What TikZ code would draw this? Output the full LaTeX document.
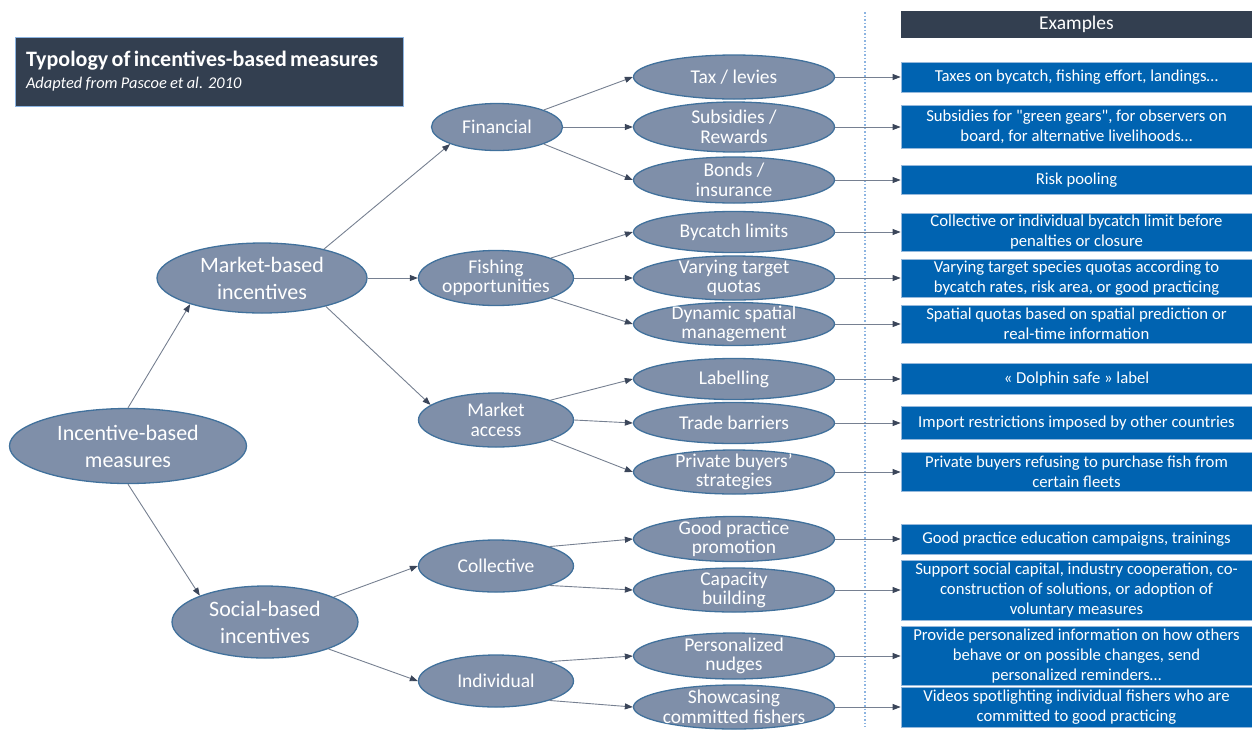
\documentclass[tikz,border=0pt]{standalone}
\usepackage{fontspec}
\setmainfont{Carlito}
\usetikzlibrary{shapes.geometric,arrows.meta}
\definecolor{ellfill}{RGB}{127,143,169}
\definecolor{ellline}{RGB}{65,113,156}
\definecolor{boxblue}{RGB}{0,99,177}
\definecolor{boxedge}{RGB}{150,185,220}
\definecolor{darkhead}{RGB}{51,63,80}
\definecolor{conn}{RGB}{118,128,145}
\definecolor{tipc}{RGB}{59,70,90}
\definecolor{sepline}{RGB}{140,180,225}

\begin{document}
\begin{tikzpicture}[x=1pt,y=-1pt,
    ell/.style args={#1/#2}{ellipse,draw=ellline,line width=1.3pt,fill=ellfill,
      inner sep=0pt,minimum width=#1,minimum height=#2},
    big/.style={text=white,align=center,font=\fontsize{22}{27}\selectfont},
    mid/.style={text=white,align=center,font=\fontsize{19.5}{19.5}\selectfont},
    sml/.style={text=white,align=center,font=\fontsize{19.5}{19.5}\selectfont},
    expl/.style={rectangle,fill=boxblue,draw=boxedge,line width=0.8pt,text=white,
      align=center,minimum width=351pt,minimum height=#1,inner sep=0pt,
      font=\fontsize{16.7}{20}\selectfont},
    arr/.style={draw=conn,line width=0.9pt,-{Triangle[length=8pt,width=6pt,color=tipc]}},
  ]
  \useasboundingbox (0,0) rectangle (1252,729);

  % Title
  \node[rectangle,fill=darkhead,draw=sepline,line width=1pt,minimum width=388pt,
    minimum height=69pt,text width=366pt,align=left,text=white,inner sep=0pt] (title) at (209,71.5)
    {{\bfseries\fontsize{22}{24}\selectfont Typology of incentives-based measures}\\[6pt]
     {\itshape\fontsize{16.4}{20}\selectfont Adapted from Pascoe et al. 2010}};
  \node[rectangle,fill=darkhead,minimum width=351pt,minimum height=27pt,inner sep=0pt,
    text=white,font=\fontsize{19.5}{22}\selectfont] (exhead) at (1076.5,24.5) {Examples};
  \draw[sepline,line width=1.2pt,dash pattern=on 1.5pt off 2pt] (865,12) -- (865,727);

  % Levels 1 and 2
  \node[ell=237pt/75pt,label={[big]center:Incentive-based\\measures}] (root) at (128,446) {};
  \node[ell=210pt/70pt,label={[big]center:Market-based\\incentives}] (market) at (262,278) {};
  \node[ell=186pt/72pt,label={[big]center:Social-based\\incentives}] (social) at (265,622) {};
  \node[ell=131pt/47pt,label={[mid]center:Financial}] (financial) at (497,127) {};
  \node[ell=155pt/55pt,label={[mid]center:Fishing\\opportunities}] (fishing) at (496,278) {};
  \node[ell=155pt/54pt,label={[mid]center:Market\\access}] (access) at (496,420) {};
  \node[ell=155pt/52pt,label={[mid]center:Collective}] (collective) at (496,566) {};
  \node[ell=155pt/52pt,label={[mid]center:Individual}] (individual) at (496,681) {};

  % Level 3
  \node[ell=201pt/44pt,label={[sml]center:Tax / levies}] (tax) at (734,77) {};
  \node[ell=201pt/50pt,label={[sml]center:Subsidies /\\Rewards}] (subs) at (734,127) {};
  \node[ell=201pt/46pt,label={[sml]center:Bonds /\\insurance}] (bonds) at (734,180) {};
  \node[ell=201pt/41pt,label={[sml]center:Bycatch limits}] (bylimit) at (734,232) {};
  \node[ell=201pt/44pt,label={[sml]center:Varying target\\quotas}] (quotas) at (734,278) {};
  \node[ell=201pt/43pt,label={[sml]center:Dynamic spatial\\management}] (spatial) at (734,324) {};
  \node[ell=201pt/41pt,label={[sml]center:Labelling}] (labelling) at (734,379) {};
  \node[ell=201pt/41pt,label={[sml]center:Trade barriers}] (trade) at (734,423) {};
  \node[ell=201pt/44pt,label={[sml]center:Private buyers’\\strategies}] (buyers) at (734,472) {};
  \node[ell=201pt/45pt,label={[sml]center:Good practice\\promotion}] (goodprac) at (734,539) {};
  \node[ell=201pt/44pt,label={[sml]center:Capacity\\building}] (capacity) at (734,590) {};
  \node[ell=201pt/46pt,label={[sml]center:Personalized\\nudges}] (nudges) at (734,656) {};
  \node[ell=201pt/44pt,label={[sml]center:Showcasing\\committed fishers}] (showcase) at (734,707) {};

  % Examples
  \node[expl=30pt] (extax) at (1076.5,77) {Taxes on bycatch, fishing effort, landings…};
  \node[expl=43pt] (exsubs) at (1076.5,127) {Subsidies for \textquotedbl green gears\textquotedbl, for observers on\\board, for alternative livelihoods…};
  \node[expl=29pt] (exbonds) at (1076.5,180) {Risk pooling};
  \node[expl=38pt] (exbylimit) at (1076.5,232) {Collective or individual bycatch limit before\\penalties or closure};
  \node[expl=38pt] (exquotas) at (1076.5,278) {Varying target species quotas according to\\bycatch rates, risk area, or good practicing};
  \node[expl=38pt] (exspatial) at (1076.5,324) {Spatial quotas based on spatial prediction or\\real-time information};
  \node[expl=31pt] (exlabelling) at (1076.5,379) {« Dolphin safe » label};
  \node[expl=33pt] (extrade) at (1076.5,423) {Import restrictions imposed by other countries};
  \node[expl=39pt] (exbuyers) at (1076.5,472) {Private buyers refusing to purchase fish from\\certain fleets};
  \node[expl=30pt] (exgoodprac) at (1076.5,539) {Good practice education campaigns, trainings};
  \node[expl=60pt] (excapacity) at (1076.5,590) {Support social capital, industry cooperation, co-\\construction of solutions, or adoption of\\voluntary measures};
  \node[expl=59pt] (exnudges) at (1076.5,656) {Provide personalized information on how others\\behave or on possible changes, send\\personalized reminders…};
  \node[expl=40pt] (exshowcase) at (1076.5,707) {Videos spotlighting individual fishers who are\\committed to good practicing};

  % Tree
  \draw[arr] (root.north) -- (market.200);
  \draw[arr] (root.south) -- (social.158);
  \draw[arr] (market.25) -- (financial.200);
  \draw[arr] (market.east) -- (fishing.west);
  \draw[arr] (market.-24) -- (access.167);
  \draw[arr] (social.20) -- (collective.west);
  \draw[arr] (social.-23) -- (individual.west);
  \draw[arr] (financial.20) -- (tax.west);
  \draw[arr] (financial.east) -- (subs.west);
  \draw[arr] (financial.-20) -- (bonds.west);
  \draw[arr] (fishing.20) -- (bylimit.west);
  \draw[arr] (fishing.east) -- (quotas.west);
  \draw[arr] (fishing.-20) -- (spatial.west);
  \draw[arr] (access.20) -- (labelling.west);
  \draw[arr] (access.east) -- (trade.west);
  \draw[arr] (access.-20) -- (buyers.west);
  \draw[arr] (collective.20) -- (goodprac.west);
  \draw[arr] (collective.-20) -- (capacity.west);
  \draw[arr] (individual.20) -- (nudges.west);
  \draw[arr] (individual.-20) -- (showcase.west);

  % To examples
  \foreach \n in {tax,subs,bonds,bylimit,quotas,spatial,labelling,trade,buyers,
    goodprac,capacity,nudges,showcase}
    \draw[arr] (\n) -- (ex\n);
\end{tikzpicture}
\end{document}
